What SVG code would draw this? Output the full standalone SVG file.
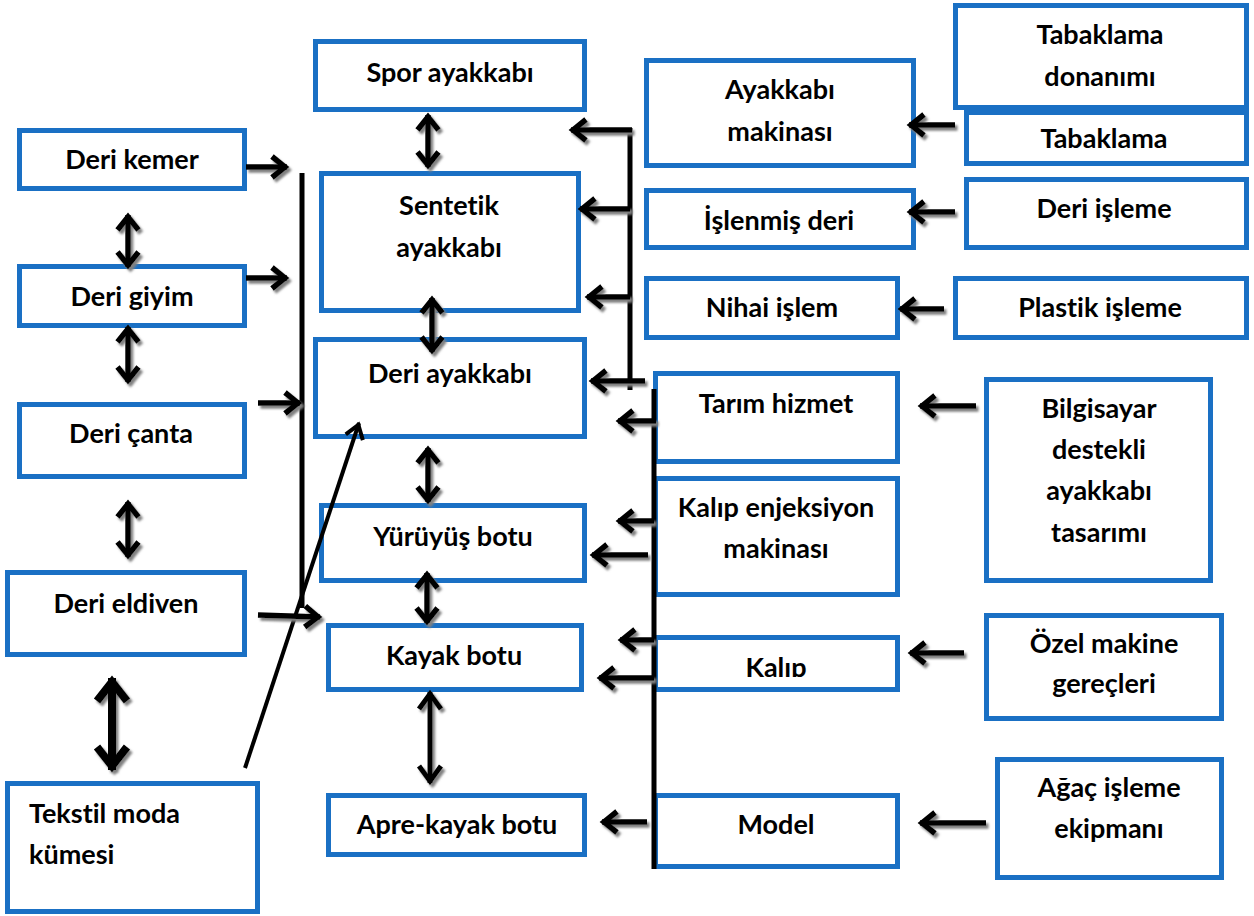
<svg xmlns="http://www.w3.org/2000/svg" width="1254" height="916" viewBox="0 0 1254 916">
<style>
.b{fill:#fff;stroke:#1a70c4;stroke-width:5}
.t{font-family:Lato,"Liberation Sans",sans-serif;font-weight:bold;font-size:27px;fill:#000;text-anchor:middle;font-variant-ligatures:none;font-feature-settings:"liga" 0,"dlig" 0}
.tl{text-anchor:start}
.a{fill:none;stroke:#000;stroke-width:5.5;marker-end:url(#h)}
.d{fill:none;stroke:#000;stroke-width:5.5;marker-start:url(#h);marker-end:url(#h)}
.dm{fill:none;stroke:#000;stroke-width:5;marker-start:url(#hm);marker-end:url(#hm)}
.db{fill:none;stroke:#000;stroke-width:8;marker-start:url(#hb);marker-end:url(#hb)}
.ln{fill:none;stroke:#000;stroke-width:5}
.dg{fill:none;stroke:#000;stroke-width:4;marker-end:url(#hd)}
</style>
<defs>
<marker id="h" markerUnits="userSpaceOnUse" markerWidth="40" markerHeight="40" orient="auto-start-reverse" refX="0" refY="0" viewBox="-20 -20 40 40" overflow="visible">
<path d="M-15,-10.5 L-2,0 L-15,10.5" fill="none" stroke="#000" stroke-width="5.5"/>
</marker>
<marker id="hm" markerUnits="userSpaceOnUse" markerWidth="40" markerHeight="40" orient="auto-start-reverse" refX="0" refY="0" viewBox="-20 -20 40 40" overflow="visible">
<path d="M-17,-11 L-2,0 L-17,11" fill="none" stroke="#000" stroke-width="5"/>
</marker>
<marker id="hb" markerUnits="userSpaceOnUse" markerWidth="60" markerHeight="60" orient="auto-start-reverse" refX="0" refY="0" viewBox="-30 -30 60 60" overflow="visible">
<path d="M-23,-15 L-4,0 L-23,15" fill="none" stroke="#000" stroke-width="8"/>
</marker>
<marker id="hd" markerUnits="userSpaceOnUse" markerWidth="40" markerHeight="40" orient="auto" refX="0" refY="0" viewBox="-20 -20 40 40" overflow="visible">
<path d="M-15,-9 L-2,0 L-15,9" fill="none" stroke="#000" stroke-width="4"/>
</marker>
<filter id="sh" x="-20%" y="-20%" width="140%" height="140%">
<feDropShadow dx="2.5" dy="3" stdDeviation="0.8" flood-color="#808080" flood-opacity="1"/>
</filter>
<clipPath id="kc"><rect x="655" y="637" width="242" height="40"/></clipPath>
</defs>

<g id="nodes">
<g id="deri-kemer"><rect class="b" x="19.5" y="130.5" width="225" height="58"/><text class="t" x="132" y="169">Deri kemer</text></g>
<g id="deri-giyim"><rect class="b" x="19.5" y="266.5" width="225" height="59"/><text class="t" x="132" y="306">Deri giyim</text></g>
<g id="deri-canta"><rect class="b" x="19.5" y="404.5" width="225" height="72"/><text class="t" x="131" y="443">Deri çanta</text></g>
<g id="deri-eldiven"><rect class="b" x="7.5" y="572.5" width="237" height="82"/><text class="t" x="126" y="613">Deri eldiven</text></g>
<g id="tekstil"><rect class="b" x="7.5" y="783.5" width="250" height="128"/><text class="t tl" x="29" y="823">Tekstil moda</text><text class="t tl" x="29" y="864">kümesi</text></g>

<g id="spor"><rect class="b" x="315.5" y="41.5" width="269" height="68"/><text class="t" x="450" y="82">Spor ayakkabı</text></g>
<g id="sentetik"><rect class="b" x="321.5" y="173.5" width="257" height="137"/><text class="t" x="449" y="215">Sentetik</text><text class="t" x="449" y="257">ayakkabı</text></g>
<g id="deri-ayakkabi"><rect class="b" x="315.5" y="339.5" width="269" height="97"/><text class="t" x="450" y="383">Deri ayakkabı</text></g>
<g id="yuruyus"><rect class="b" x="321.5" y="505.5" width="263" height="75"/><text class="t" x="453" y="546">Yürüyüş botu</text></g>
<g id="kayak"><rect class="b" x="328.5" y="625.5" width="253" height="64"/><text class="t" x="454" y="665">Kayak botu</text></g>
<g id="apre"><rect class="b" x="328.5" y="795.5" width="256" height="59"/><text class="t" x="457" y="834">Apre-kayak botu</text></g>

<g id="ayakkabi-makinasi"><rect class="b" x="646.5" y="60.5" width="267" height="105"/><text class="t" x="780" y="99">Ayakkabı</text><text class="t" x="780" y="141">makinası</text></g>
<g id="islenmis-deri"><rect class="b" x="646.5" y="190.5" width="267" height="57"/><text class="t" x="779" y="230">İşlenmiş deri</text></g>
<g id="nihai-islem"><rect class="b" x="646.5" y="278.5" width="251" height="59"/><text class="t" x="772" y="317">Nihai işlem</text></g>
<g id="tarim-hizmet"><rect class="b" x="655.5" y="373.5" width="242" height="88"/><text class="t" x="776" y="413">Tarım hizmet</text></g>
<g id="kalip-enjeksiyon"><rect class="b" x="655.5" y="478.5" width="242" height="116"/><text class="t" x="776" y="517">Kalıp enjeksiyon</text><text class="t" x="776" y="558">makinası</text></g>
<g id="kalip"><rect class="b" x="655.5" y="637.5" width="242" height="52"/><text class="t" x="776" y="677" clip-path="url(#kc)">Kalıp</text></g>
<g id="model"><rect class="b" x="655.5" y="795.5" width="242" height="71"/><text class="t" x="776" y="834">Model</text></g>

<g id="tabaklama"><rect class="b" x="966.5" y="112.5" width="280" height="51"/><text class="t" x="1104" y="148">Tabaklama</text></g>
<g id="tabaklama-donanimi"><rect class="b" x="955.5" y="5.5" width="291" height="102"/><text class="t" x="1100" y="44">Tabaklama</text><text class="t" x="1100" y="86">donanımı</text></g>
<g id="deri-isleme"><rect class="b" x="966.5" y="179.5" width="280" height="68"/><text class="t" x="1104" y="218">Deri işleme</text></g>
<g id="plastik-isleme"><rect class="b" x="955.5" y="278.5" width="291" height="59"/><text class="t" x="1100" y="317">Plastik işleme</text></g>
<g id="bilgisayar"><rect class="b" x="986.5" y="379.5" width="224" height="201"/><text class="t" x="1099" y="418">Bilgisayar</text><text class="t" x="1099" y="459">destekli</text><text class="t" x="1099" y="500">ayakkabı</text><text class="t" x="1099" y="542">tasarımı</text></g>
<g id="ozel-makine"><rect class="b" x="986.5" y="615.5" width="235" height="103"/><text class="t" x="1104" y="653">Özel makine</text><text class="t" x="1104" y="693">gereçleri</text></g>
<g id="agac-isleme"><rect class="b" x="997.5" y="759.5" width="224" height="118"/><text class="t" x="1109" y="797">Ağaç işleme</text><text class="t" x="1109" y="838">ekipmanı</text></g>
</g>

<g id="connectors">
<g id="lines">
<line class="ln" x1="302" y1="173" x2="302" y2="608"/>
<line class="ln" x1="630" y1="128" x2="630" y2="390"/>
<line class="ln" x1="654" y1="389" x2="654" y2="869"/>
<line class="dg" x1="245" y1="768" x2="359" y2="423"/>
</g>
<g id="arrows" filter="url(#sh)">
<line class="a" x1="246" y1="167" x2="287" y2="167"/>
<line class="a" x1="246" y1="278" x2="287" y2="278"/>
<line class="a" x1="258" y1="403" x2="300" y2="403"/>
<line class="a" x1="258" y1="615" x2="320" y2="617"/>
<line class="d" x1="128" y1="215" x2="128" y2="267"/>
<line class="d" x1="128" y1="327" x2="128" y2="382"/>
<line class="d" x1="128" y1="502" x2="128" y2="557"/>
<line class="db" x1="112" y1="678" x2="112" y2="770"/>
<line class="d" x1="428" y1="115" x2="428" y2="167"/>
<line class="d" x1="432" y1="298" x2="432" y2="352"/>
<line class="d" x1="428" y1="448" x2="428" y2="502"/>
<line class="d" x1="427" y1="573" x2="427" y2="623"/>
<line class="dm" x1="430" y1="692" x2="430" y2="783"/>
<line class="a" x1="632" y1="130" x2="571" y2="130"/>
<line class="a" x1="630" y1="209" x2="580" y2="209"/>
<line class="a" x1="630" y1="297" x2="587" y2="297"/>
<line class="a" x1="645" y1="381" x2="591" y2="381"/>
<line class="a" x1="656" y1="421" x2="618" y2="421"/>
<line class="a" x1="654" y1="521" x2="618" y2="521"/>
<line class="a" x1="648" y1="555" x2="592" y2="555"/>
<line class="a" x1="654" y1="640" x2="620" y2="640"/>
<line class="a" x1="654" y1="678" x2="599" y2="678"/>
<line class="a" x1="647" y1="822" x2="602" y2="822"/>
<line class="a" x1="955" y1="125" x2="909" y2="125"/>
<line class="a" x1="955" y1="212" x2="909" y2="212"/>
<line class="a" x1="944" y1="309" x2="900" y2="309"/>
<line class="a" x1="976" y1="406" x2="920" y2="406"/>
<line class="a" x1="964" y1="653" x2="910" y2="653"/>
<line class="a" x1="986" y1="823" x2="920" y2="823"/>
</g>
</g>
</svg>
